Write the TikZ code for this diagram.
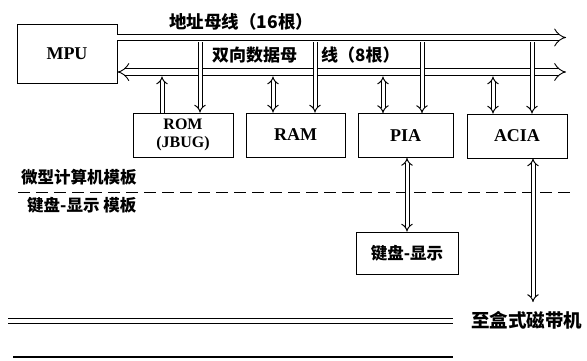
\documentclass[tikz,border=0pt]{standalone}
\usepackage{fontspec}
\setmainfont{Liberation Serif}
\newfontfamily\cjk{Noto Sans CJK SC}
\usetikzlibrary{arrows.meta}
\tikzset{
  box/.style={draw, line width=0.9pt, rectangle, inner sep=0pt, font=\bfseries\fontsize{18}{16}\selectfont, align=center},
  bus/.style={double, double distance=5.5pt, line width=0.9pt},
  vbus/.style={double, double distance=3pt, line width=1pt},
  lbl/.style={anchor=west, inner sep=0pt, font=\cjk\bfseries\fontsize{16.5}{18}\selectfont},
  sep/.style={line width=0.9pt, dash pattern=on 12pt off 6pt},
  rail/.style={line width=0.9pt}
}
\begin{document}
\begin{tikzpicture}[x=1pt, y=-1pt]
\useasboundingbox (0,0) rectangle (587,360);
% boxes
\node[box, minimum width=100pt, minimum height=59pt] (mpu) at (67,53.5) {MPU};
\node[box, minimum width=100pt, minimum height=44pt, font=\bfseries\fontsize{16}{18.5}\selectfont] (rom) at (183,135) {ROM\\(JBUG)};
\node[box, minimum width=99pt, minimum height=44pt] (ram) at (295.5,135) {RAM};
\node[box, minimum width=95pt, minimum height=44pt] (pia) at (405.5,135.5) {PIA};
\node[box, minimum width=100pt, minimum height=44pt] (acia) at (517,136) {ACIA};
\node[box, minimum width=102pt, minimum height=42pt, font=\cjk\bfseries\fontsize{16.5}{18}\selectfont] (kb) at (407,253) {键盘-显示};
% buses
\coordinate (abend) at (566,37.5);
\coordinate (dbend) at (566,72);
\draw[bus, -{Implies}] (mpu.east |- 0,37.5) -- (abend);
\draw[bus, {Implies}-{Implies}] (mpu.east |- 0,72) -- (dbend);
% bus labels
\node[lbl, font=\cjk\bfseries\fontsize{17.5}{19}\selectfont] (ablbl) at (169,22) {地址母线（16根）};
\node[lbl, font=\cjk\bfseries\fontsize{17}{19}\selectfont] (dblbl1) at (212,55) {双向数据母};
\node[lbl, font=\cjk\bfseries\fontsize{17}{19}\selectfont] (dblbl2) at (321,55) {线（8根）};
% bus taps
\coordinate (aR) at (200,42);
\coordinate (aM) at (315,42);
\coordinate (aP) at (422,42);
\coordinate (aA) at (532,42);
\coordinate (dR) at (162,76.5);
\coordinate (dM) at (273,76.5);
\coordinate (dP) at (383,76.5);
\coordinate (dA) at (493,76.5);
\draw[vbus, -{Implies}] (aR) -- (aR |- rom.north);
\draw[vbus, -{Implies}] (aM) -- (aM |- ram.north);
\draw[vbus, -{Implies}] (aP) -- (aP |- pia.north);
\draw[vbus, -{Implies}] (aA) -- (aA |- acia.north);
\draw[vbus, {Implies}-] (dR) -- (dR |- rom.north);
\draw[vbus, {Implies}-{Implies}] (dM) -- (dM |- ram.north);
\draw[vbus, {Implies}-{Implies}] (dP) -- (dP |- pia.north);
\draw[vbus, {Implies}-{Implies}] (dA) -- (dA |- acia.north);
% separator
\coordinate (sepL) at (18,192);
\coordinate (sepR) at (575,192);
\draw[sep] (sepL) -- (sepR);
\node[lbl] (mclbl) at (21,177) {微型计算机模板};
\node[lbl] (kblbl) at (27,205) {键盘-显示 模板};
% down links
\draw[vbus, {Implies}-{Implies}] (kb.north |- pia.south) -- (kb.north);
\coordinate (tape) at (533,302);
\draw[vbus, {Implies}-{Implies}] (tape |- acia.south) -- (tape);
\node[lbl, font=\cjk\bfseries\fontsize{18.5}{20}\selectfont] (tapelbl) at (471,320) {至盒式磁带机};
% rails
\coordinate (r1L) at (8,318); \coordinate (r1R) at (453,318);
\coordinate (r2L) at (8,323); \coordinate (r2R) at (453,323);
\coordinate (r3L) at (13,357); \coordinate (r3R) at (453,357);
\draw[rail] (r1L) -- (r1R);
\draw[rail] (r2L) -- (r2R);
\draw[rail, line width=1.3pt] (r3L) -- (r3R);
\end{tikzpicture}
\end{document}
